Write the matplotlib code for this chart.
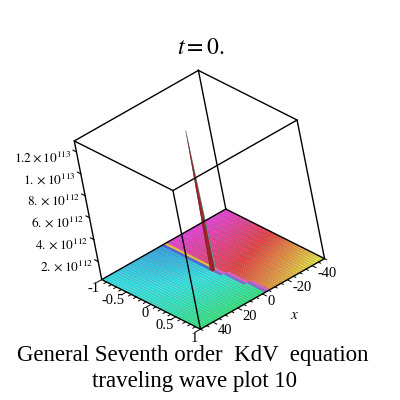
import numpy as np
import matplotlib
matplotlib.use("Agg")
import matplotlib.pyplot as plt
from mpl_toolkits.mplot3d import proj3d
import colorsys

plt.rcParams['font.family'] = ['Liberation Serif', 'DejaVu Serif']
plt.rcParams['mathtext.fontset'] = 'stix'

# surface samples, Maple style 49 x 49 grid
x_vals = np.linspace(-50, 50, 49)
y_vals = np.linspace(-1, 1, 49)
z_floor = 0.35e112
z_peak = 1.30e113

# ticks and labels
z_ticks = [2e112, 4e112, 6e112, 8e112, 1e113, 1.2e113]
z_labels = [r'$2.\times10^{112}$', r'$4.\times10^{112}$', r'$6.\times10^{112}$',
            r'$8.\times10^{112}$', r'$1.\times10^{113}$', r'$1.2\times10^{113}$']
y_ticks = [-1, -0.5, 0, 0.5, 1]
y_labels = ['-1', '-0.5', '0', '0.5', '1']
x_ticks = [-40, -20, 0, 20, 40]
x_labels = ['-40', '-20', '0', '20', '40']

title = r'$t = 0.$'
caption = ['General Seventh order  KdV  equation', 'traveling wave plot 10']

X, Y = np.meshgrid(x_vals, y_vals)
Z = np.full(X.shape, z_floor)
Z[24, 24] = z_peak   # singular spike at x=0, y=0


def front(y):
    # wave front position
    return np.where(y > 0, -5.0 * y, 0.0)


def cell_colour(x, y):
    t = (y + 1) / 2
    d = x - front(y)
    step = x_vals[1] - x_vals[0]
    if -step < d < 0:
        h, s, v = (0.12, 0.8, 1.0) if y < 0 else (0.88, 0.6, 0.95)
    elif 0 <= d < step:
        h, s, v = (0.64, 0.7, 0.95) if y < 0 else (0.72, 0.55, 0.9)
    elif d < 0:
        h = (0.84 + 0.24 * t + 0.10 * t * (-x / 50)) % 1.0
        s, v = 0.75, 0.97
    else:
        h = 0.5 - 0.1 * t ** 2 + 0.07 * (1 - t) * (1 - x / 50)
        s, v = 0.8, 0.97
    r, g, b = colorsys.hsv_to_rgb(h, s, v)
    return (r, g, b, 1.0)


cols = np.zeros(X.shape + (4,))
for i in range(X.shape[0] - 1):
    for j in range(X.shape[1] - 1):
        xc = 0.5 * (X[i, j] + X[i, j + 1])
        yc = 0.5 * (Y[i, j] + Y[i + 1, j])
        cols[i, j] = cell_colour(xc, yc)
# faces of the spike
for i in (23, 24):
    cols[i, 24] = (0.62, 0.14, 0.14, 1)
    cols[i, 23] = (0.5, 0.74, 0.78, 1)

fig = plt.figure(figsize=(4, 4), dpi=100)
ax = fig.add_axes([-0.015, -0.013, 1, 1], projection='3d', computed_zorder=False)
ax.set_proj_type('ortho')
ax.view_init(elev=30.6, azim=56.8, roll=11.2)
ax.set_box_aspect((0.986, 0.97, 1.0), zoom=0.68)
ax.set_axis_off()

ax.plot_surface(X, Y, Z, facecolors=cols, shade=False, rstride=1, cstride=1,
                edgecolor=(0, 0, 0, 0.2), linewidth=0.35, zorder=1)

x0, x1 = x_vals[0], x_vals[-1]
y0, y1 = y_vals[0], y_vals[-1]
z0, z1 = z_floor, z_peak
ax.set_xlim(x0, x1)
ax.set_ylim(y0, y1)
ax.set_zlim(z0, z1)

# box edges
for zz in (z0, z1):
    ax.plot([x0, x1, x1, x0, x0], [y0, y0, y1, y1, y0], [zz] * 5, color='k', lw=1.0, zorder=3)
for xx in (x0, x1):
    for yy in (y0, y1):
        ax.plot([xx, xx], [yy, yy], [z0, z1], color='k', lw=1.0, zorder=3)

# tick marks
for zt in z_ticks:
    ax.plot([x1, x1], [y0, y0 - 0.07], [zt, zt], color='k', lw=0.8, zorder=3)
for yt in np.arange(-1, 1.001, 0.1):
    ln = 4 if abs(yt * 2 - round(yt * 2)) < 1e-6 else 2.2
    ax.plot([x1, x1 + ln], [yt, yt], [z0, z0], color='k', lw=0.7, zorder=3)
for xt in np.arange(-50, 50.001, 5):
    ln = 0.08 if xt % 20 == 0 and abs(xt) < 50 else 0.045
    ax.plot([xt, xt], [y1, y1 + ln], [z0, z0], color='k', lw=0.7, zorder=3)

fig.canvas.draw()
M = ax.get_proj()


def put(s, x, y, z, dx, dy, ha, size=9.5):
    px, py, _ = proj3d.proj_transform(x, y, z, M)
    ax.annotate(s, (px, py), xytext=(dx, dy), textcoords='offset pixels',
                ha=ha, va='center', fontsize=size, annotation_clip=False)


for zt, lab in zip(z_ticks, z_labels):
    put(lab, x1, y0, zt, -5, -5, 'right')
for yt, lab in zip(y_ticks, y_labels):
    put(lab, x1, yt, z0, -2, -9, 'right', 10.5)
for xt, lab in zip(x_ticks, x_labels):
    put(lab, xt, y1, z0, 5, -8, 'left', 10.5)
put(r'$x$', -12, y1, z0, 17, -30, 'center', 11)

fig.text(0.502, 1 - 48 / 400, title, ha='center', va='center', fontsize=17)
fig.text(0.483, 1 - 355 / 400, caption[0], ha='center', va='center', fontsize=16.5)
fig.text(0.487, 1 - 381 / 400, caption[1], ha='center', va='center', fontsize=16.5)

fig.savefig('out.png', dpi=100)
